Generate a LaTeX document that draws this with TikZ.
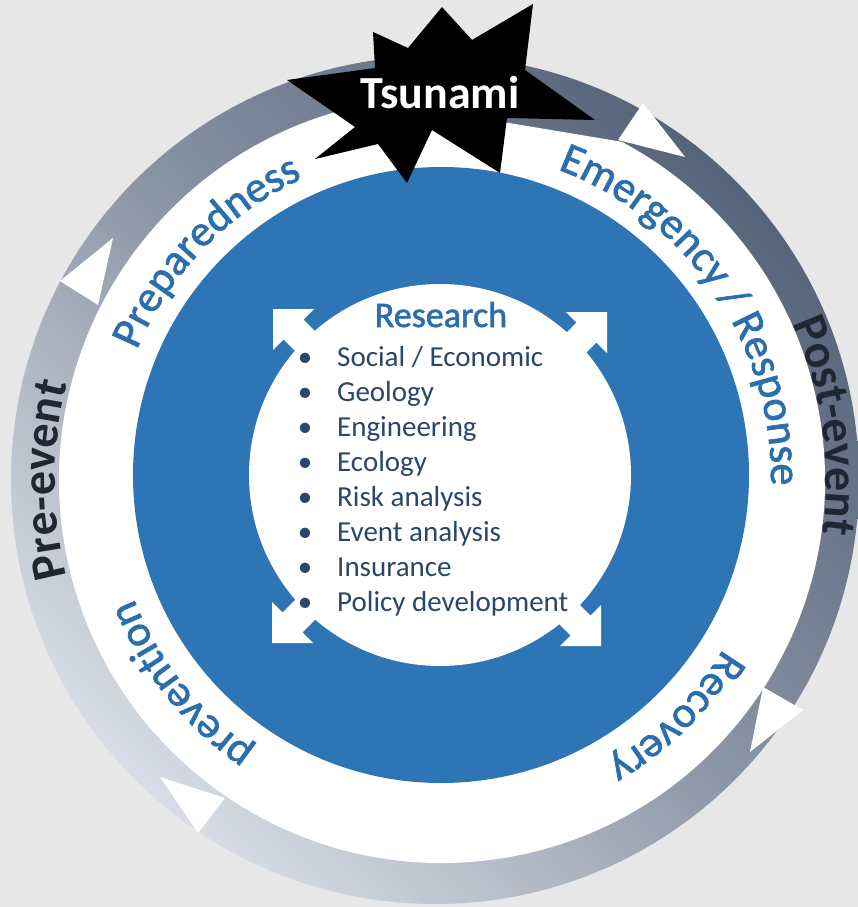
\documentclass[tikz,border=0pt]{standalone}
\usepackage{fontspec}
\setmainfont{Carlito}
\newfontfamily\ringfam{Carlito}[FakeBold=1.6]
\usetikzlibrary{decorations.text,calc}
\definecolor{bgcol}{HTML}{E7E7E7}
\definecolor{ringblue}{HTML}{2E75B6}
\definecolor{labelblue}{HTML}{2B6EAD}
\definecolor{listcol}{HTML}{2A4668}
\definecolor{evcol}{HTML}{1F2733}
\definecolor{graydark}{HTML}{56647A}
\definecolor{graymid}{HTML}{8A95A5}
\definecolor{graylight}{HTML}{D8DDE5}
\newcommand{\ringfnt}{\ringfam\fontsize{44}{50}\selectfont\color{labelblue}}
\newcommand{\evfnt}{\fontsize{48}{56}\selectfont\bfseries\color{evcol}}
\newcommand{\resarrow}[2]{%
  \begin{scope}[shift={#1},rotate=#2]
    \fill[white] (0,0) -- (29,29) -- (29,14) -- (64,14) -- (64,-14) -- (29,-14) -- (29,-29) -- cycle;
  \end{scope}}
\begin{document}
\begin{tikzpicture}[x=1pt,y=1pt,
  ringlabel/.style={decorate,decoration={text along path,text align=center,text={|\ringfnt|#1}}},
  evlabel/.style={decorate,decoration={text along path,text align=center,text={|\evfnt|#1}}},
  listitem/.style={anchor=base west,inner sep=0pt,text=listcol,font=\fontsize{29}{35}\selectfont},
  bulletmark/.style={anchor=base,inner sep=0pt,text=listcol,font=\fontsize{29}{35}\selectfont},
  whitehead/.style={fill=white}]
\useasboundingbox (0,0) rectangle (858,-907);
\fill[bgcol] (0,0) rectangle (858,-907);
\coordinate (G) at (435,-480);
\coordinate (W) at (442,-480);
\coordinate (B) at (441,-475);
\coordinate (I) at (440,-475);
\coordinate (L) at (441,-478);
% gray outer ring
\shade[top color=graydark,bottom color=graylight,middle color=graymid,shading angle=-45] (G) circle (424);
% white band
\fill[white] ($(W)+(62:383)$) -- (503,-122) -- (470,-118) -- ($(W)+(100:383)$)
  arc[start angle=100,end angle=422,radius=383] -- cycle;
% white arrow heads in the gray ring
\fill[whitehead] (643,-103) -- (685,-157) -- (618,-140) -- cycle;
\fill[whitehead] (60,-281) -- (113,-238) -- (98,-305) -- cycle;
\fill[whitehead] (803,-710) -- (750,-752) -- (763,-687) -- cycle;
\fill[whitehead] (198,-833) -- (160,-777) -- (225,-798) -- cycle;
% blue disk and inner circle
\fill[ringblue] (B) circle (308);
\fill[white] (I) circle (191);
% research arrows
\resarrow{(273,-309)}{-45}
\resarrow{(607,-312)}{-135}
\resarrow{(272,-643)}{45}
\resarrow{(601,-646)}{135}
% research text
\node[anchor=base,inner sep=0pt,text=labelblue,font=\ringfam\fontsize{36}{40}\selectfont] (research) at (441,-327) {Research};
\foreach \t [count=\i from 0] in {Social / Economic,Geology,Engineering,Ecology,Risk analysis,Event analysis,Insurance,Policy development}{
  \node[bulletmark] (bu\i) at (305,{-366-35*\i}) {\textbullet};
  \node[listitem] (li\i) at (337,{-366-35*\i}) {\t};
}
% ring labels
\path[ringlabel=Preparedness] ($(L)+(166:330)$) arc[start angle=166,end angle=106,radius=330];
\path[ringlabel={Emergency / Response}] ($(L)+(84:330)$) arc[start angle=84,end angle=-16,radius=330];
\path[ringlabel=Recovery] ($(L)+(-20:330)$) arc[start angle=-20,end angle=-71,radius=330];
\path[ringlabel=prevention] ($(L)+(-113:330)$) arc[start angle=-113,end angle=-170,radius=330];
% event labels
\path[evlabel=Pre-event] ($(W)+(210:387)$) arc[start angle=210,end angle=150,radius=387];
\path[evlabel=Post-event] ($(W)+(38:384)$) arc[start angle=38,end angle=-22,radius=384];
% tsunami star
\fill[black] (373,-32) -- (408,-48) -- (442,-7) -- (472,-40) -- (533,-4) -- (525,-70) -- (595,-120)
  -- (507,-118) -- (500,-173) -- (432,-130) -- (407,-183) -- (378,-144) -- (315,-159)
  -- (355,-127) -- (287,-80) -- (375,-68) -- cycle;
\node[anchor=base,inner sep=0pt,text=white,font=\fontsize{46}{50}\selectfont\bfseries] (tsunami) at (440,-108) {Tsunami};
\end{tikzpicture}
\end{document}
